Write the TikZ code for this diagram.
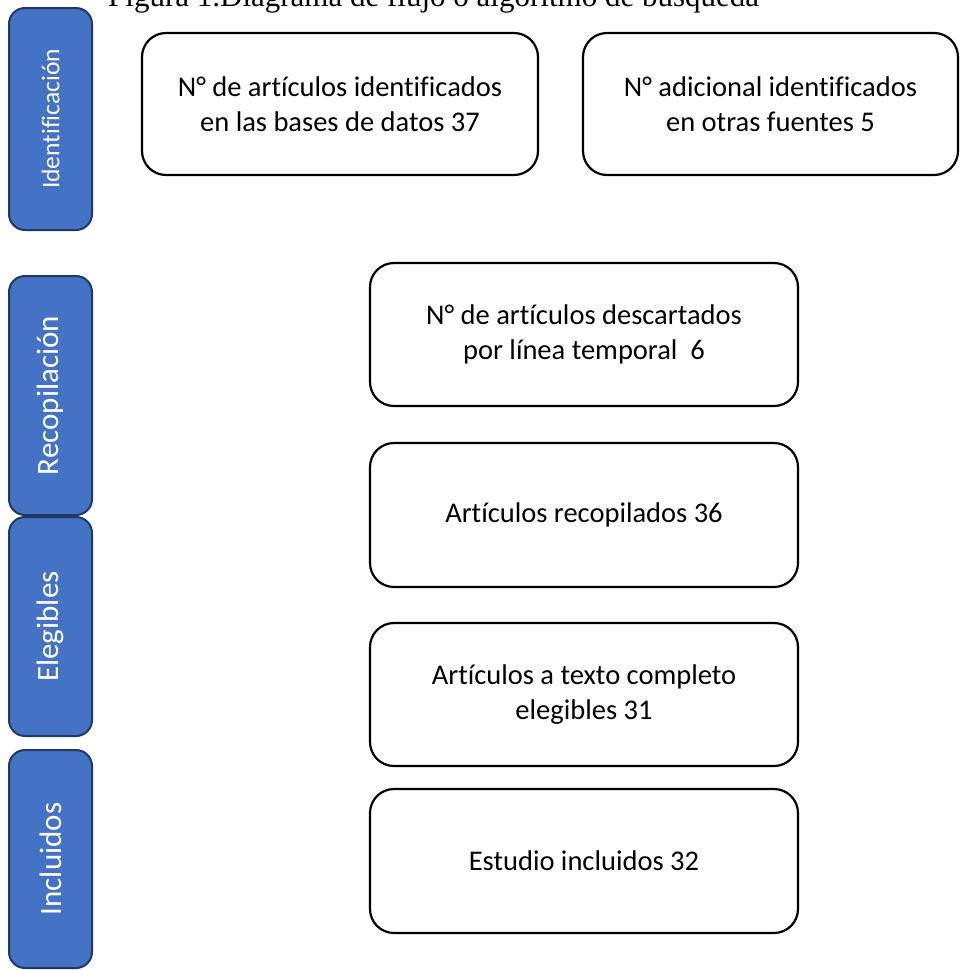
\documentclass[tikz,border=0pt]{standalone}
\usepackage{fontspec}
\setmainfont{Carlito}[Ligatures=CommonOff]
\newfontfamily\titlefont{Liberation Serif}
\definecolor{phaseblue}{HTML}{4472C4}
\definecolor{phaseline}{HTML}{1F3864}
\begin{document}
\begin{tikzpicture}[x=1pt,y=-1pt,
  flowbox/.style={draw=black, line width=2.2pt, rounded corners=24pt, fill=white,
    align=center, inner sep=0pt, font=\fontsize{28.5}{35}\selectfont},
  phase/.style={draw=phaseline, fill=phaseblue, line width=2pt, rounded corners=16pt,
    text=white, inner sep=0pt, rotate=90, minimum height=83pt, font=\fontsize{31}{31}\selectfont}]
\useasboundingbox (0,0) rectangle (961,970);
\clip (0,0) rectangle (961,970);

% title (cut at the top edge, as in the reference)
\node[anchor=base west, inner sep=0pt, font=\titlefont\fontsize{31}{31}\selectfont] (title) at (108,6)
  {Figura 1.Diagrama de flujo o algoritmo de búsqueda};

% phase bars
\node[phase, minimum width=222pt, font=\fontsize{25.5}{25.5}\selectfont] (p1) at (50.5,119) {Identificación};
\node[phase, minimum width=239pt] (p2) at (50.5,395.5) {Recopilación};
\node[phase, minimum width=219pt] (p3) at (50.5,626.5) {Elegibles};
\node[phase, minimum width=218pt] (p4) at (50.5,859) {Incluidos};

% boxes
\node[flowbox, minimum width=396pt, minimum height=142pt] (b1) at (340,104)
  {N° de artículos identificados\\ en las bases de datos 37};
\node[flowbox, minimum width=375pt, minimum height=142pt] (b2) at (770.5,104)
  {N° adicional identificados\\ en otras fuentes 5};
\node[flowbox, minimum width=428pt, minimum height=143pt] (b3) at (584,334.5)
  {N° de artículos descartados\\ por línea temporal\ \ 6};
\node[flowbox, minimum width=428pt, minimum height=144pt] (b4) at (584,515)
  {Artículos recopilados 36};
\node[flowbox, minimum width=428pt, minimum height=143pt] (b5) at (584,694.5)
  {Artículos a texto completo\\ elegibles 31};
\node[flowbox, minimum width=428pt, minimum height=144pt] (b6) at (584,861)
  {Estudio incluidos 32};
\end{tikzpicture}
\end{document}
